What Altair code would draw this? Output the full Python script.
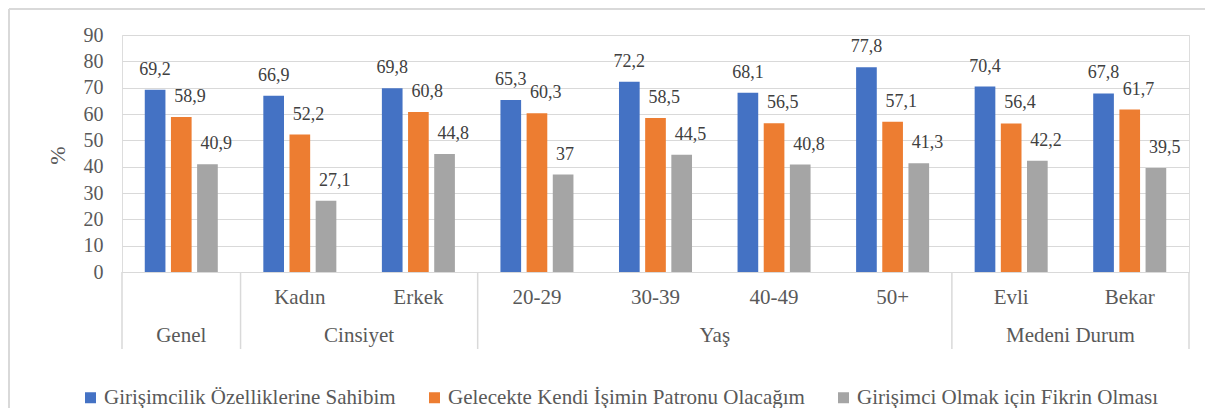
import altair as alt
import pandas as pd

slots = ["Genel", "Kadın", "Erkek", "20-29", "30-39", "40-49", "50+", "Evli", "Bekar"]
sub_labels = ["", "Kadın", "Erkek", "20-29", "30-39", "40-49", "50+", "Evli", "Bekar"]
groups = ["Genel", "Cinsiyet", "Yaş", "Medeni Durum"]
group_sizes = [1, 2, 4, 2]

series = [
    "Girişimcilik Özelliklerine Sahibim",
    "Gelecekte Kendi İşimin Patronu Olacağım",
    "Girişimci Olmak için Fikrin Olması",
]
colors = ["#4472C4", "#ED7D31", "#A5A5A5"]

s1 = [69.2, 66.9, 69.8, 65.3, 72.2, 68.1, 77.8, 70.4, 67.8]
s2 = [58.9, 52.2, 60.8, 60.3, 58.5, 56.5, 57.1, 56.4, 61.7]
s3 = [40.9, 27.1, 44.8, 37.0, 44.5, 40.8, 41.3, 42.2, 39.5]
y_ticks = [0, 10, 20, 30, 40, 50, 60, 70, 80, 90]

FONT = "Liberation Serif, Times New Roman, serif"
W, H = 1067, 237

rows = []
for name, vals in zip(series, [s1, s2, s3]):
    for slot, v in zip(slots, vals):
        rows.append({"slot": slot, "series": name, "value": v,
                     "label": f"{v:g}".replace(".", ",")})
df = pd.DataFrame(rows)

bounds = [0]
for n in group_sizes:
    bounds.append(bounds[-1] + n)
sep_df = pd.DataFrame({"pos": bounds})
sub_df = pd.DataFrame({"pos": [i + 0.5 for i in range(len(slots))], "txt": sub_labels})
grp_df = pd.DataFrame({"pos": [(bounds[i] + bounds[i + 1]) / 2 for i in range(len(groups))],
                       "txt": groups})

x_band = alt.X("slot:N", sort=slots, axis=None,
               scale=alt.Scale(paddingInner=0, paddingOuter=0))
x_off = alt.XOffset("series:N", sort=series,
                    scale=alt.Scale(paddingInner=0.21, paddingOuter=0.87))
y_enc = alt.Y("value:Q", scale=alt.Scale(domain=[0, 90], nice=False),
              axis=alt.Axis(values=y_ticks, grid=True, gridColor="#d9d9d9", gridWidth=1.2,
                            domain=False, ticks=False, labelPadding=19, labelOverlap=False,
                            labelFontSize=20, labelFont=FONT, labelColor="#595959",
                            title="%", titleFontSize=22, titleFont=FONT,
                            titleColor="#595959", titleFontWeight="normal",
                            titleAngle=270, titleBaseline="middle",
                            titleX=-65, titleY=120))

bars = alt.Chart(df).mark_bar().encode(
    x=x_band, xOffset=x_off, y=y_enc,
    color=alt.Color("series:N", sort=series,
                    scale=alt.Scale(domain=series, range=colors),
                    legend=alt.Legend(title=None, orient="none", legendX=-42, legendY=352,
                                      direction="horizontal", symbolType="square",
                                      symbolSize=121, symbolStrokeWidth=0,
                                      labelFontSize=21, labelFont=FONT,
                                      labelColor="#595959", labelOffset=3,
                                      columnPadding=28, labelLimit=600, padding=0)),
)

lab_blue = alt.Chart(df).transform_filter(
    alt.datum.series == series[0]
).mark_text(align="center", baseline="middle", dy=-20, fontSize=18, font=FONT,
            color="#404040").encode(x=x_band, xOffset=x_off, y=y_enc, text="label:N")

lab_other = alt.Chart(df).transform_filter(
    alt.datum.series != series[0]
).mark_text(align="left", baseline="middle", dx=-7, dy=-20, fontSize=18, font=FONT,
            color="#404040").encode(x=x_band, xOffset=x_off, y=y_enc, text="label:N")

xq = alt.X("pos:Q", axis=None, scale=alt.Scale(domain=[0, len(slots)], nice=False, zero=False))

seps = alt.Chart(sep_df).mark_rule(color="#d9d9d9", strokeWidth=1.5).encode(
    x=xq, y=alt.value(H), y2=alt.value(H + 77))

subs = alt.Chart(sub_df).mark_text(baseline="middle", fontSize=21, font=FONT,
                                   color="#595959").encode(
    x=xq, y=alt.value(H + 26), text="txt:N")

grps = alt.Chart(grp_df).mark_text(baseline="middle", fontSize=21, font=FONT,
                                   color="#595959").encode(
    x=xq, y=alt.value(H + 64), text="txt:N")

border_top = alt.Chart(sep_df).mark_rule(color="#d9d9d9", strokeWidth=2).encode(
    x=alt.value(-113), x2=alt.value(W + 40), y=alt.value(-26))
border_left = alt.Chart(sep_df).mark_rule(color="#d9d9d9", strokeWidth=2).encode(
    x=alt.value(-113), y=alt.value(-26), y2=alt.value(H + 140))

chart = alt.layer(
    bars, lab_blue, lab_other, seps, subs, grps, border_top, border_left
).resolve_scale(x="independent").properties(
    width=W, height=H,
    autosize=alt.AutoSizeParams(type="none"),
    padding={"left": 114, "top": 27, "right": 16, "bottom": 136},
).configure_view(strokeWidth=0).configure(background="white", font=FONT)

chart.save("out.html", embed_options={"renderer": "svg", "actions": False})
